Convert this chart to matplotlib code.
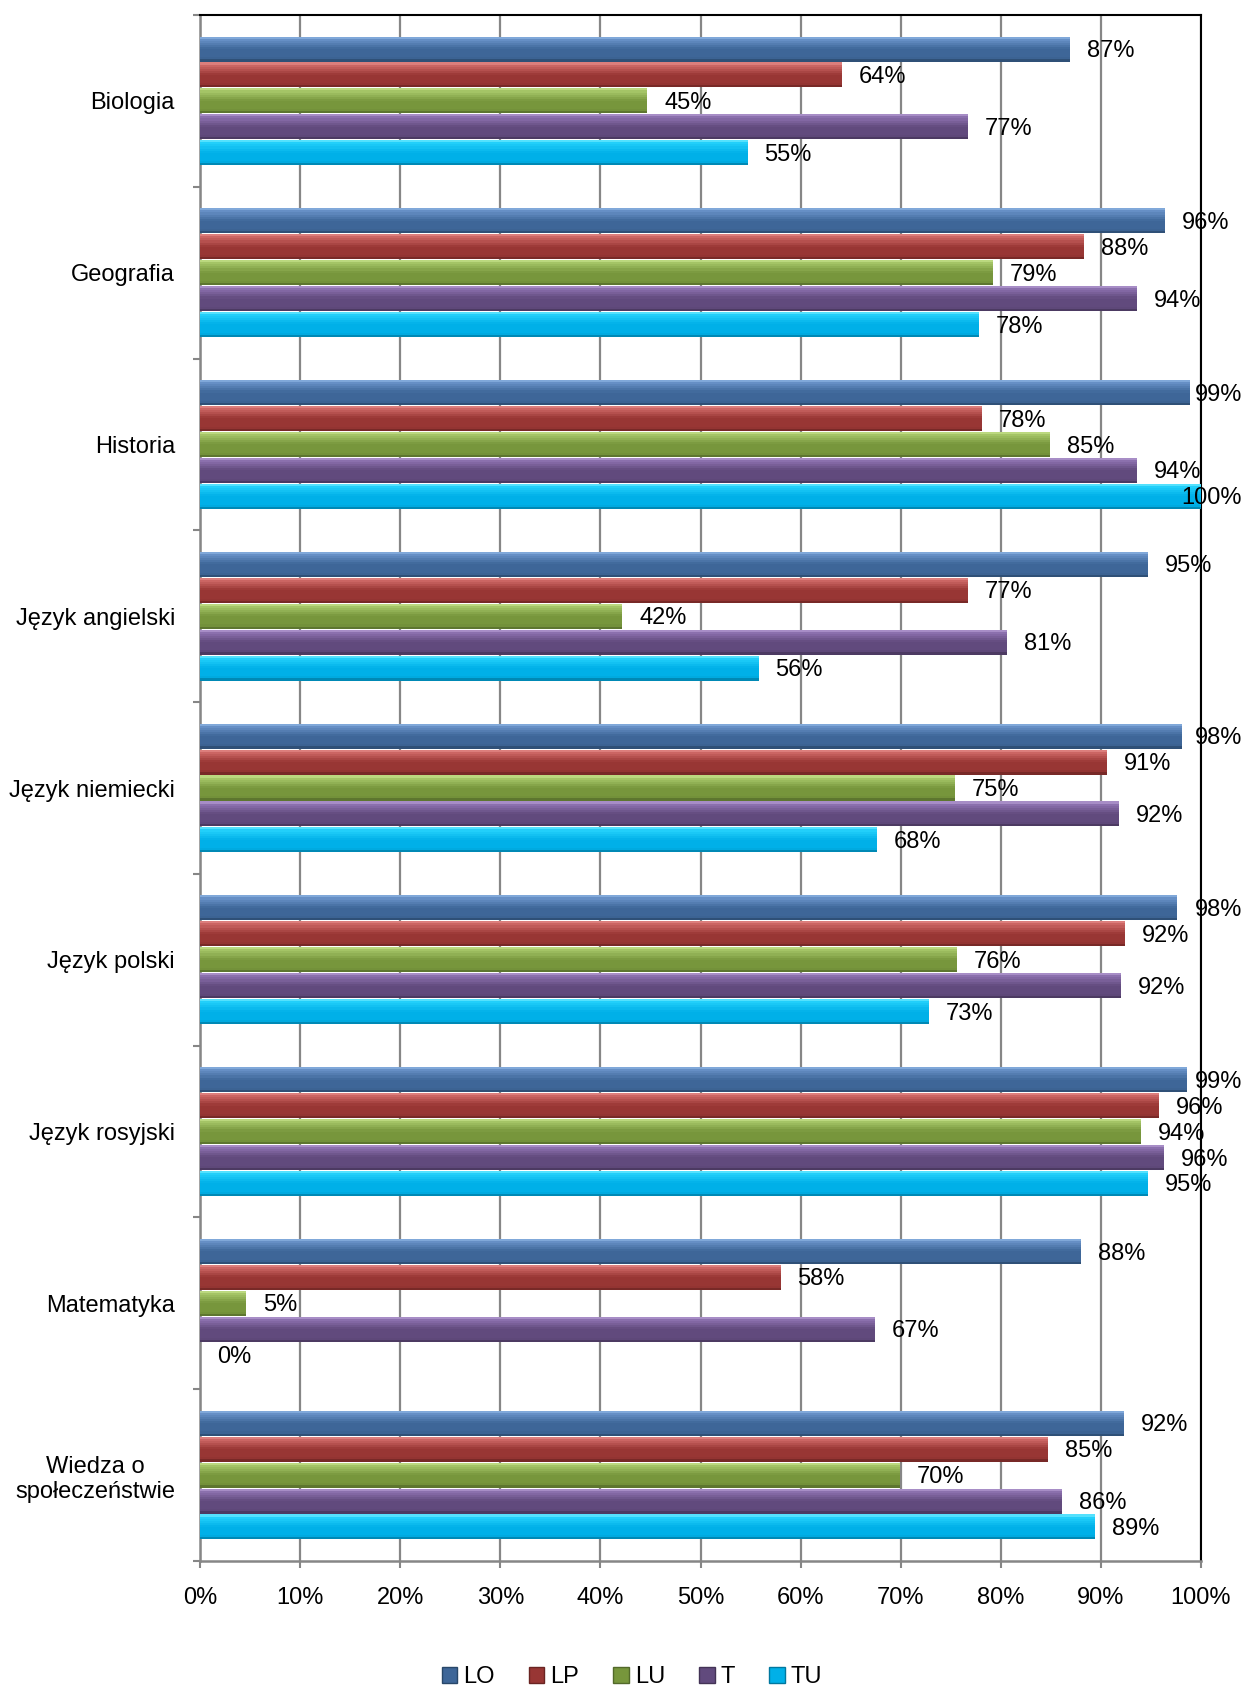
import matplotlib
matplotlib.use("Agg")
import matplotlib.pyplot as plt
from matplotlib.patches import Patch
from matplotlib.colors import to_rgb
import numpy as np

plt.rcParams['font.family'] = ['Liberation Sans', 'DejaVu Sans']

categories = ["Biologia", "Geografia", "Historia", "Język angielski", "Język niemiecki",
              "Język polski", "Język rosyjski", "Matematyka", "Wiedza o\nspołeczeństwie"]
series = ["LO", "LP", "LU", "T", "TU"]

LO = [86.9, 96.4, 98.9, 94.7, 98.1, 97.6, 98.6, 88.0, 92.3]
LP = [64.1, 88.3, 78.1, 76.7, 90.6, 92.4, 95.8, 58.0, 84.7]
LU = [44.7, 79.2, 84.9, 42.2, 75.4, 75.6, 94.0, 4.6, 69.9]
T  = [76.7, 93.6, 93.6, 80.6, 91.8, 92.0, 96.3, 67.4, 86.1]
TU = [54.7, 77.8, 100.0, 55.8, 67.6, 72.8, 94.7, 0.0, 89.4]
values = [LO, LP, LU, T, TU]

xticks = [0, 10, 20, 30, 40, 50, 60, 70, 80, 90, 100]

top_c = ["#8DB4E3", "#E58A88", "#C6E28C", "#B59DD2", "#6FEAFF"]
light = ["#6790C6", "#CC6664", "#A5C567", "#8C70AE", "#22CFFA"]
base = ["#3E6698", "#983634", "#77963C", "#614A7D", "#00B0E8"]
dark = ["#284769", "#6A2422", "#52692A", "#433356", "#00789F"]

FS = 17

def col_at(k, f):
    stops = [0.0, 0.12, 0.5, 0.86, 1.0]
    cols = [top_c[k], light[k], base[k], base[k], dark[k]]
    rgb = np.array([to_rgb(c) for c in cols])
    return tuple(np.interp(f, stops, rgb[:, j]) for j in range(3))

fig = plt.figure(figsize=(12.44, 16.89), dpi=100)
ax = fig.add_axes([200/1244, 1 - 1561/1689, 1001/1244, 1546/1689])

n = len(categories)
y = np.arange(n)
bh = 0.151
inner = 0.145
NS = 12
for k, (name, vals) in enumerate(zip(series, values)):
    yc = y + (k - 2) * bh
    v = np.array(vals)
    for s in range(NS):
        f = (s + 0.5) / NS
        off = -inner / 2 + (s + 0.5) * inner / NS
        ax.barh(yc + off, v, height=inner / NS * 1.05, color=col_at(k, f), zorder=3, linewidth=0)
    for yi, vi in zip(yc, v):
        lab = "{:.0f}%".format(vi)
        w = 6.2 if len(lab) == 4 else (5.0 if len(lab) == 3 else 3.5)
        xs = vi + 1.7
        if xs + w > 104.1:
            ax.text(104.1, yi + 0.012, lab, ha='right', va='center', fontsize=FS,
                    color='black', zorder=6, clip_on=False)
        else:
            ax.text(xs, yi + 0.012, lab, ha='left', va='center', fontsize=FS,
                    color='black', zorder=6, clip_on=False)

ax.set_xlim(0, 100)
ax.set_ylim(n - 0.5, -0.5)
ax.set_xticks(xticks)
ax.set_xticklabels([f"{t}%" for t in xticks], fontsize=FS)
ax.xaxis.grid(True, color="#868686", linewidth=1.6, zorder=1)
ax.set_axisbelow(True)

ax.set_yticks(y)
ax.set_yticklabels(categories, fontsize=FS, multialignment='center')
ax.set_yticks(np.arange(n + 1) - 0.5, minor=True)
ax.tick_params(axis='y', which='major', length=0, pad=18)
ax.tick_params(axis='y', which='minor', length=5, width=1.5, color="#868686", direction='out')
ax.tick_params(axis='x', which='major', length=5, width=1.5, color="#868686", direction='out', pad=14)

for s in ['left', 'bottom']:
    ax.spines[s].set_color("#868686")
    ax.spines[s].set_linewidth(1.8)
for s in ['top', 'right']:
    ax.spines[s].set_color("#000000")
    ax.spines[s].set_linewidth(1.5)

handles = [Patch(facecolor=base[k], edgecolor=dark[k], linewidth=1) for k in range(5)]
fig.legend(handles, series, loc='center', bbox_to_anchor=(0.508, 1 - 1677/1689), ncol=5,
           frameon=False, fontsize=FS, handlelength=0.66, handleheight=0.66,
           handletextpad=0.25, columnspacing=1.45, borderaxespad=0, borderpad=0)

fig.savefig("out.png", dpi=100)
